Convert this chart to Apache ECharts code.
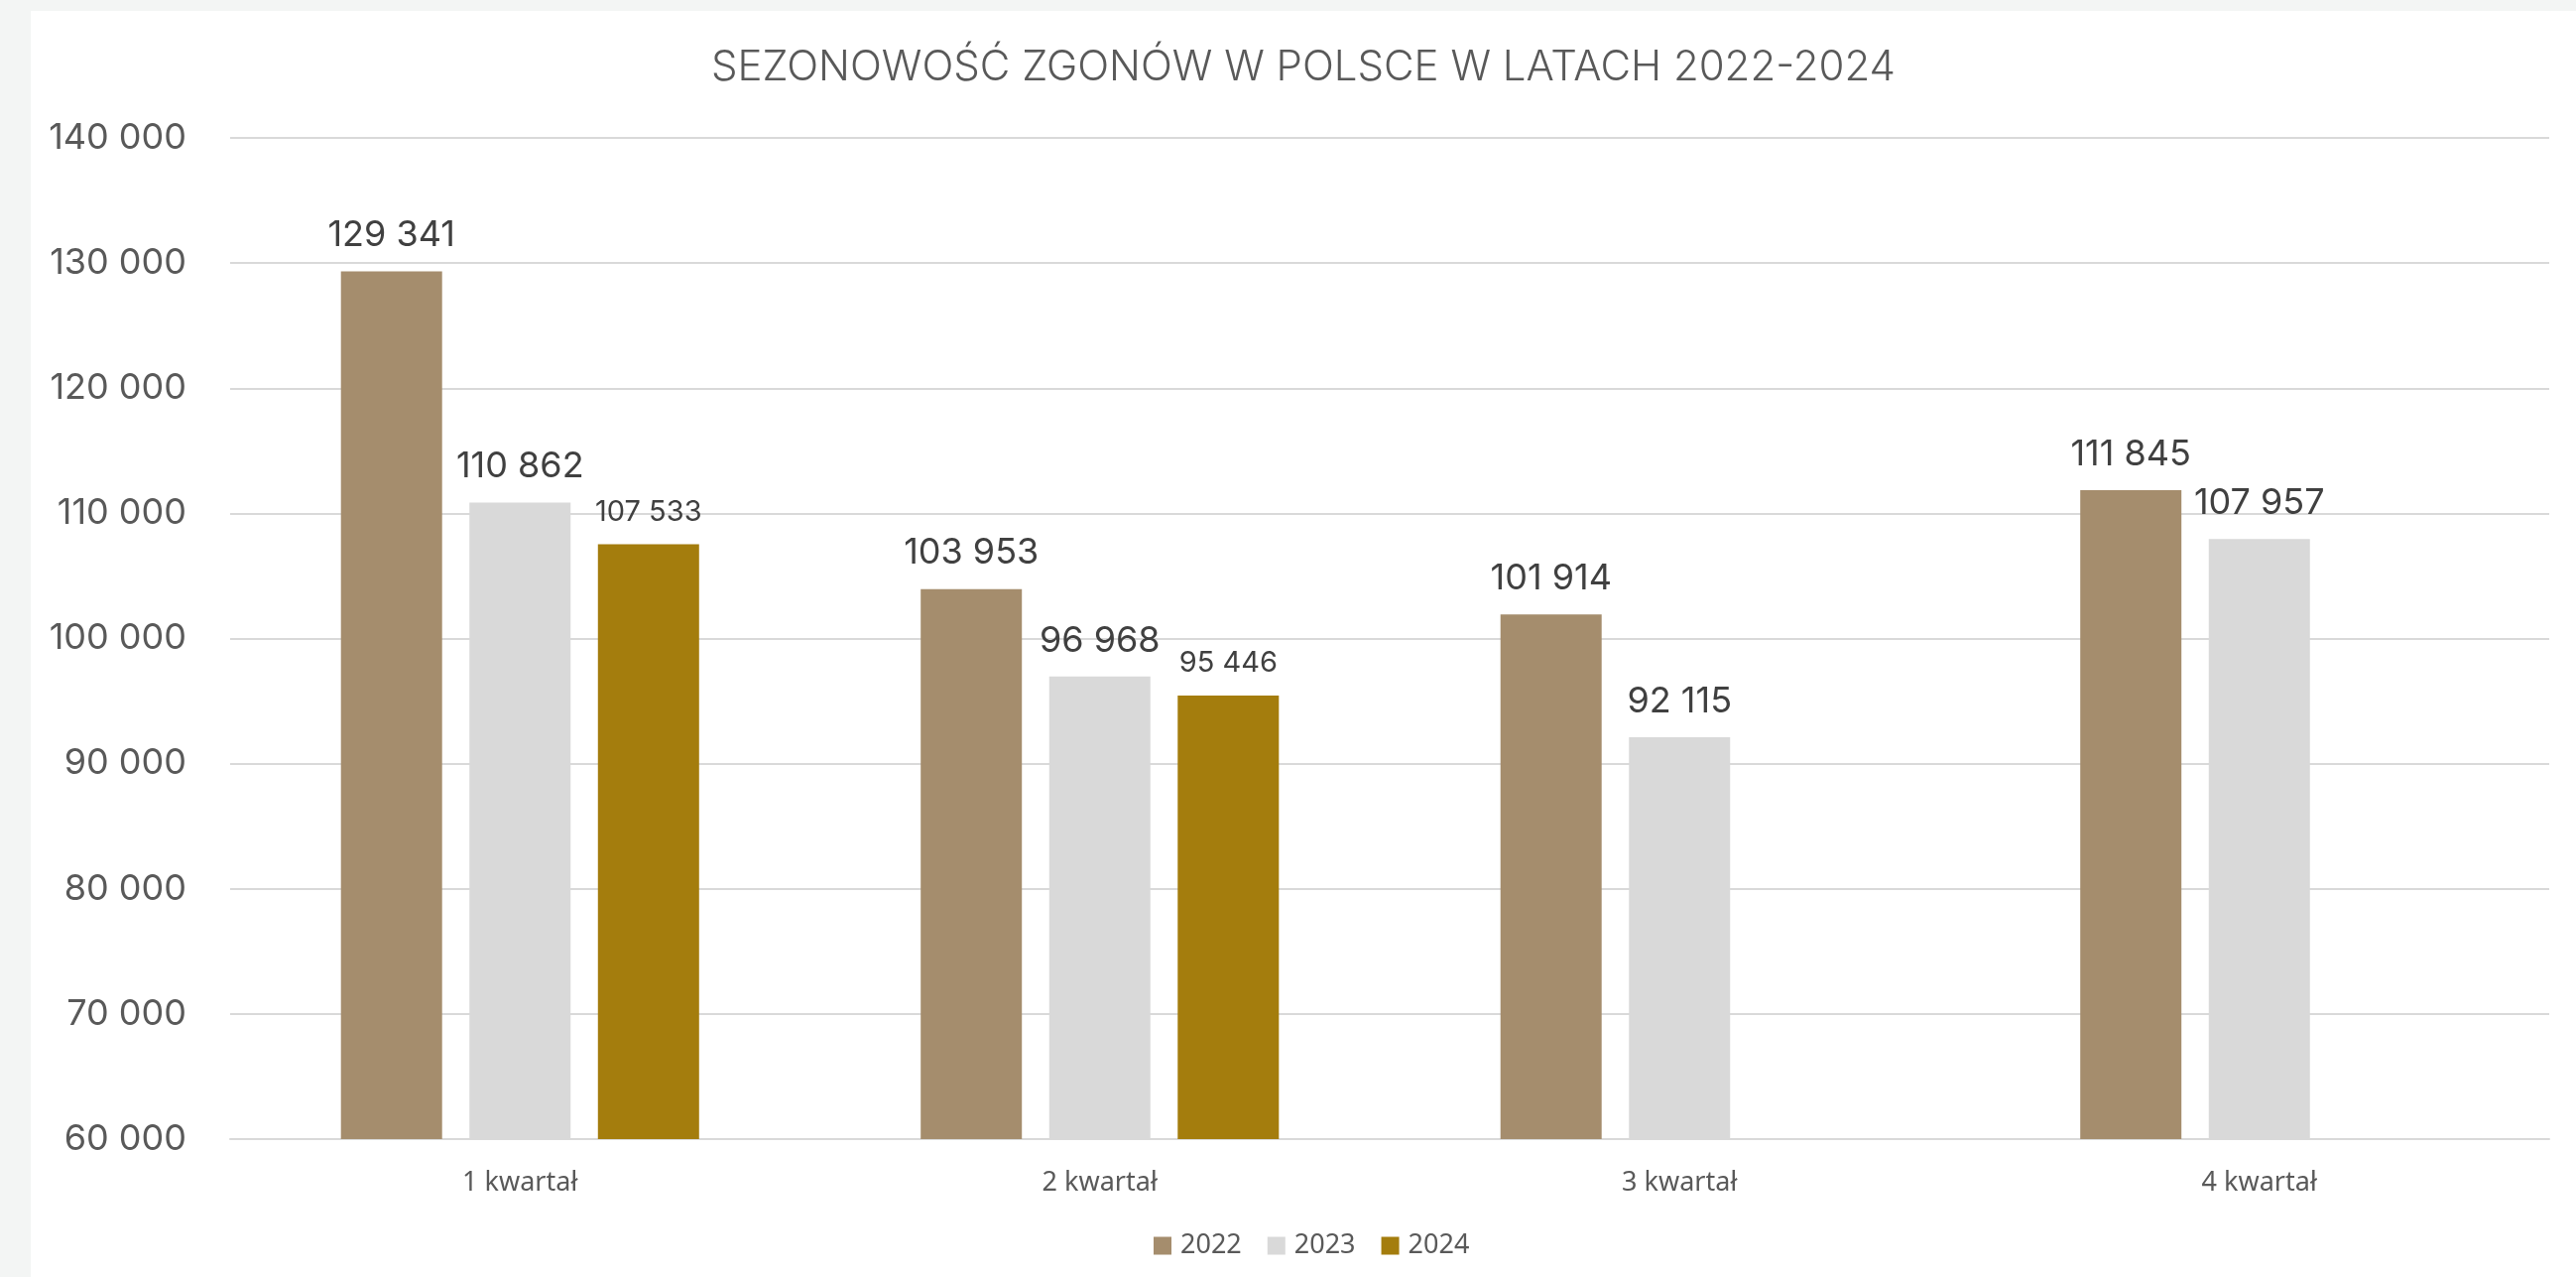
<!DOCTYPE html>
<html>
<head>
<meta charset="utf-8">
<script src="https://cdn.jsdelivr.net/npm/echarts@6/dist/echarts.min.js"></script>
<style>
html,body{margin:0;padding:0;background:#f3f5f4;width:2597px;height:1287px;overflow:hidden;}
#chart{position:absolute;left:31px;top:11px;width:2566px;height:1276px;background:#ffffff;}
</style>
</head>
<body>
<div id="chart"></div>
<script>
const titleText = 'SEZONOWOŚĆ ZGONÓW W POLSCE W LATACH 2022-2024';
const categories = ['1 kwartał', '2 kwartał', '3 kwartał', '4 kwartał'];
const seriesNames = ['2022', '2023', '2024'];
const values2022 = [129341, 103953, 101914, 111845];
const values2023 = [110862, 96968, 92115, 107957];
const values2024 = [107533, 95446, null, null];
const yMin = 60000, yMax = 140000, yStep = 10000;
const colors = ['#a58d6d', '#d9d9d9', '#a47d0d'];

function fmt(v){ return String(v).replace(/\B(?=(\d{3})+(?!\d))/g, ' '); }

const chart = echarts.init(document.getElementById('chart'));
const valueFont = 'Inter, "Noto Sans", sans-serif';
const catFont = '"Noto Sans", "Liberation Sans", sans-serif';

function mkSeries(name, data, color, labelSize){
  return {
    name: name, type: 'bar', data: data,
    barWidth: 102, barGap: '27%',
    itemStyle: {color: color},
    label: {
      show: true, position: 'top', distance: 18,
      formatter: p => fmt(p.value),
      fontFamily: valueFont, fontSize: labelSize, color: '#404040'
    }
  };
}

chart.setOption({
  animation: false,
  backgroundColor: '#ffffff',
  title: {
    text: titleText, left: 'center', top: 31,
    textStyle: {fontFamily: valueFont, fontWeight: 300, fontSize: 42, color: '#595959'}
  },
  legend: {
    data: seriesNames, left: 1127, top: 1226,
    icon: 'rect', itemWidth: 18, itemHeight: 18, itemGap: 26,
    textStyle: {fontFamily: catFont, fontSize: 27, color: '#595959', padding: [0,0,0,4]}
  },
  grid: {left: 201, right: 27, top: 128, bottom: 139, containLabel: false},
  xAxis: {
    type: 'category', data: categories,
    axisLine: {lineStyle: {color: '#d9d9d9', width: 2}},
    axisTick: {show: false},
    axisLabel: {fontFamily: catFont, fontSize: 27, color: '#595959', margin: 31}
  },
  yAxis: {
    type: 'value', min: yMin, max: yMax, interval: yStep,
    axisLine: {show: false}, axisTick: {show: false},
    splitLine: {lineStyle: {color: '#d9d9d9', width: 2}},
    axisLabel: {fontFamily: valueFont, fontSize: 36, color: '#595959', margin: 44, formatter: v => fmt(v)}
  },
  series: [
    mkSeries(seriesNames[0], values2022, colors[0], 36),
    mkSeries(seriesNames[1], values2023, colors[1], 36),
    mkSeries(seriesNames[2], values2024, colors[2], 29)
  ]
});
</script>
</body>
</html>
